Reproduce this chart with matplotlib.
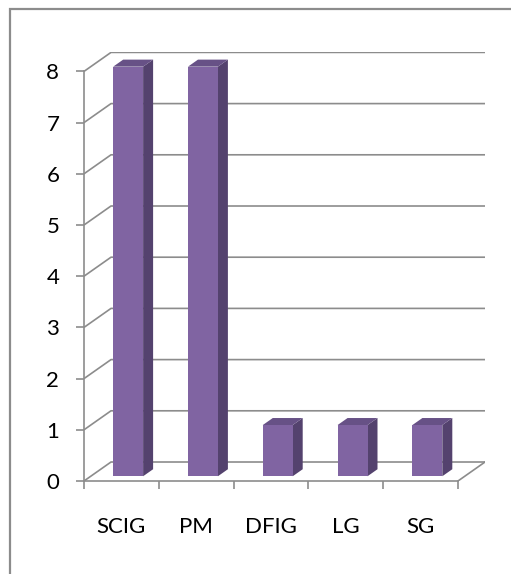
import matplotlib
matplotlib.use("Agg")
import matplotlib.pyplot as plt
from matplotlib.patches import Polygon, Rectangle

categories = ["SCIG", "PM", "DFIG", "LG", "SG"]
values = [8, 8, 1, 1, 1]
yticks = [0, 1, 2, 3, 4, 5, 6, 7, 8]

W, H = 511, 574
fig = plt.figure(figsize=(W / 100, H / 100), dpi=100)
plt.rcParams['font.family'] = ['Lato', 'DejaVu Sans']

# outer border
fig.patches.append(Rectangle((10 / W, -0.05), 1.1, 1 - 9 / H + 0.05, transform=fig.transFigure,
                             fill=False, edgecolor="#8c8c8c", linewidth=1.6))

# axes placement (pixels)
x0, x1 = 84, 485
y0, y1 = 481, 52.4
ax = fig.add_axes([x0 / W, 1 - y0 / H, (x1 - x0) / W, (y0 - y1) / H])
ax.patch.set_visible(False)

n = len(categories)
Dx, Dy = 0.361, 0.371  # depth offset in data units
ax.set_xlim(-0.5, n - 0.5 + Dx)
ax.set_ylim(0, max(yticks) + Dy)

gc = "#8c8c8c"
lw = 1.2
# gridlines (side wall diagonals + back wall horizontals)
for v in yticks:
    ax.plot([-0.5, -0.5 + Dx, n - 0.5 + Dx], [v, v + Dy, v + Dy], color=gc, lw=lw,
            solid_capstyle="butt", zorder=1)
# floor right edge
ax.plot([n - 0.5, n - 0.5 + Dx], [0, Dy], color=gc, lw=lw, zorder=1)

# bars
f0, fd, bw = 0.25, 0.37, 0.40
front_c, side_c, top_c = "#8064A2", "#54426E", "#675186"
ox, oy = f0 * Dx, f0 * Dy
dx, dy = fd * Dx, fd * Dy
xs = list(range(n))
ax.bar([x + ox for x in xs], values, width=bw, bottom=oy, color=front_c, zorder=4,
       linewidth=0)
for x, v in zip(xs, values):
    l, r = x + ox - bw / 2, x + ox + bw / 2
    b, t = oy, oy + v
    ax.add_patch(Polygon([(r, b), (r + dx, b + dy), (r + dx, t + dy), (r, t)],
                         closed=True, facecolor=side_c, edgecolor="none", zorder=3))
    ax.add_patch(Polygon([(l, t), (l + dx, t + dy), (r + dx, t + dy), (r, t)],
                         closed=True, facecolor=top_c, edgecolor="none", zorder=3))

# axes spines / ticks
for s in ["top", "right"]:
    ax.spines[s].set_visible(False)
ax.spines["left"].set_bounds(0, max(yticks))
ax.spines["bottom"].set_bounds(-0.5, n - 0.5)
for s in ["left", "bottom"]:
    ax.spines[s].set_color(gc)
    ax.spines[s].set_linewidth(lw)
    ax.spines[s].set_zorder(2)

ax.set_yticks(yticks)
ax.set_yticklabels([str(v) for v in yticks])
ax.tick_params(axis="y", length=5.8, width=lw, color=gc, pad=12, labelsize=16,
               labelcolor="#000000")
ax.set_xticks(xs)
ax.set_xticklabels(categories)
ax.set_xticks([x - 0.5 for x in range(n + 1)], minor=True)
ax.tick_params(axis="x", which="major", length=0, pad=26, labelsize=16, labelcolor="#000000")
ax.tick_params(axis="x", which="minor", length=5.8, width=lw, color=gc)

fig.savefig("out.png", dpi=100)
